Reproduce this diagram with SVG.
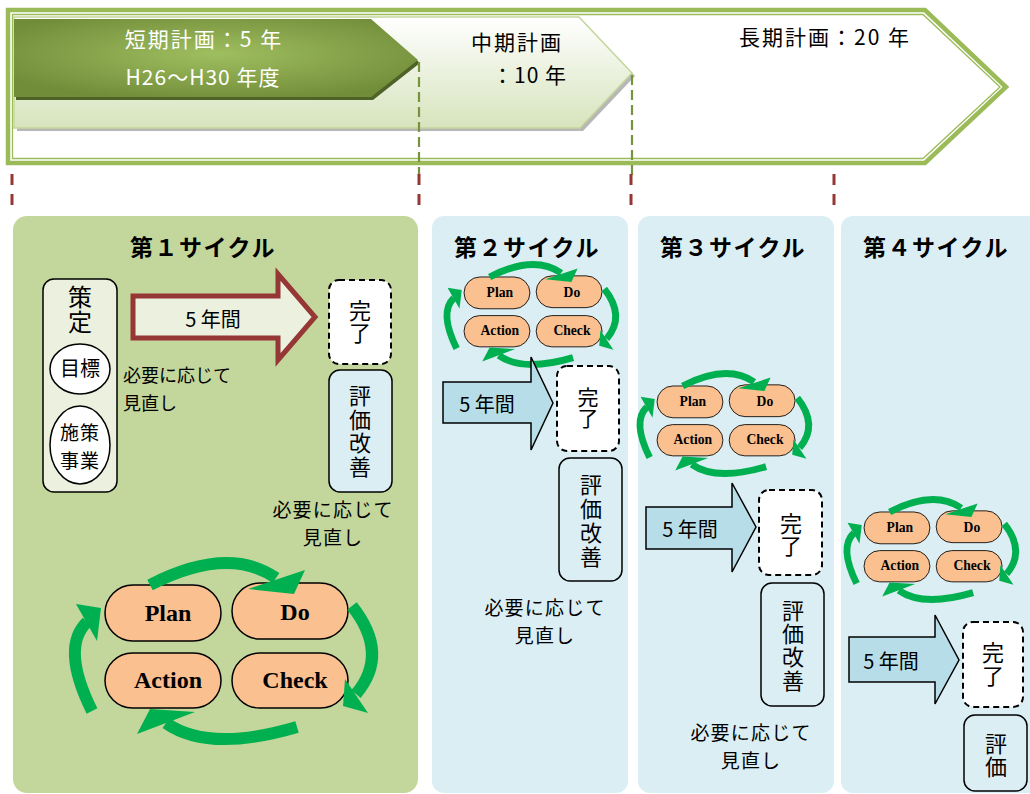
<svg xmlns="http://www.w3.org/2000/svg" xmlns:xlink="http://www.w3.org/1999/xlink" width="1030" height="794" viewBox="0 0 1030 794">
<defs>
<style>
text{font-family:"Noto Sans CJK JP","Noto Sans",sans-serif;fill:#000}
.c{text-anchor:middle}
.v{writing-mode:vertical-rl;text-anchor:middle}
.ttl{font-size:23px;font-weight:bold;letter-spacing:1.5px}
.f18{font-size:18px}
.f19{font-size:19px}
.f20{font-size:20px}
.f21{font-size:21px}
.f22{font-size:22px}
.f24{font-size:24px}
.wh{fill:#fff}
.pill{fill:#fac090;stroke:#000;stroke-width:1.5}
.pt{font-family:"Liberation Serif",serif;font-weight:bold;font-size:24px;text-anchor:middle}
.arc{fill:none;stroke:#00b050;stroke-width:12}
.head{fill:#00b050}
.done{fill:#fff;stroke:#000;stroke-width:2;stroke-dasharray:6 4}
.eval{fill:#dbeef4;stroke:#000;stroke-width:1.5}
.barrow{fill:#b7dee8;stroke:#000;stroke-width:1.5;stroke-linejoin:miter}
.red{stroke:#953735;stroke-width:3;stroke-dasharray:11 9;fill:none}
.gd{stroke:#77933c;stroke-width:2.2;stroke-dasharray:10 5;fill:none}
.panelB{fill:#dbeef4}
</style>
<linearGradient id="midG" x1="0" y1="0" x2="0" y2="1">
<stop offset="0" stop-color="#ffffff"/>
<stop offset="0.5" stop-color="#ebf1de"/>
<stop offset="1" stop-color="#d7e4bd"/>
</linearGradient>
<radialGradient id="shortG" cx="0.5" cy="0.45" r="0.6">
<stop offset="0" stop-color="#9fbe5f"/>
<stop offset="1" stop-color="#728d3a"/>
</radialGradient>
<g id="pdcaArrows">
<path class="arc" d="M150,585 Q228,545 276,578"/>
<polygon class="head" points="248,589 294,594 305,570"/>
<path class="arc" d="M352,606 Q390,654 356,694"/>
<polygon class="head" points="345,679 343,706 368,713"/>
<path class="arc" d="M297,727 Q208.5,753 166,723"/>
<polygon class="head" points="195,712 150,709 137,734"/>
<path class="arc" d="M92,711 Q60.5,647.5 87,622"/>
<polygon class="head" points="97,641 101,608 76,604"/>
</g>
</defs>

<rect width="1030" height="794" fill="#fff"/>

<!-- Plans banner -->
<g id="long-plan">
<polygon points="8,10 925,10 1006,87 925,163 8,163" fill="#fff" stroke="#9bbb59" stroke-width="4.5"/>
<polygon points="12.5,14.5 923,14.5 1000,87 923,158.5 12.5,158.5" fill="none" stroke="#9bbb59" stroke-width="1.3"/>
<text class="f21 c" x="825" y="45" style="letter-spacing:2px">長期計画：20 年</text>
</g>
<g id="mid-plan">
<polygon points="17,20 582,20 635,76 583,131 17,131" fill="#a5a5a5" opacity="0.8"/>
<polygon points="14,17 579,17 632,73 580,128 14,128" fill="url(#midG)" stroke="#c3d69b" stroke-width="1.5"/>
<text class="f21 c" x="517" y="50" style="letter-spacing:2px">中期計画</text>
<text class="f21" x="492" y="83" style="letter-spacing:1px">：10 年</text>
</g>
<g id="short-plan">
<polygon points="16,22 373,22 420,63 373,100 16,100" fill="#4f6228"/>
<polygon points="14,19 371,19 418,60 371,97 14,97" fill="url(#shortG)"/>
<text class="f21 c wh" x="204" y="47" style="letter-spacing:2px">短期計画：5 年</text>
<text class="f21 c wh" x="203" y="85" style="letter-spacing:1px">H26～H30 年度</text>
</g>

<!-- Panels -->
<g id="panel-1"><rect x="13" y="216" width="405" height="577" rx="14" fill="#c3d69b"/></g>
<g id="panel-2"><rect x="432" y="216" width="196" height="577" rx="12" class="panelB"/></g>
<g id="panel-3"><rect x="638" y="216" width="196" height="577" rx="12" class="panelB"/></g>
<g id="panel-4"><rect x="841" y="216" width="220" height="577" rx="12" class="panelB"/></g>

<!-- Connectors -->
<g id="connectors">
<line class="gd" x1="419" y1="62" x2="419" y2="176"/>
<line class="gd" x1="632" y1="75" x2="632" y2="178"/>
<line class="red" x1="12" y1="174" x2="12" y2="210"/>
<line class="red" x1="419" y1="174" x2="419" y2="210"/>
<line class="red" x1="631" y1="174" x2="631" y2="210"/>
<line class="red" x1="834" y1="174" x2="834" y2="210"/>
</g>

<!-- Cycle 1 -->
<g id="cycle1">
<text class="ttl c" x="203" y="256">第１サイクル</text>
<g id="c1-plan">
<rect x="43" y="279" width="74" height="213" rx="11" fill="#ebf1de" stroke="#000" stroke-width="1.5"/>
<text class="f24 v" x="80" y="310" style="letter-spacing:1px">策定</text>
<ellipse cx="80" cy="369" rx="30" ry="25" fill="#fff" stroke="#000" stroke-width="1.5"/>
<text class="f20 c" x="80" y="376">目標</text>
<ellipse cx="80" cy="445" rx="30" ry="39" fill="#fff" stroke="#000" stroke-width="1.5"/>
<text class="f19 c" x="80" y="440" style="letter-spacing:1px">施策</text>
<text class="f19 c" x="80" y="468" style="letter-spacing:1px">事業</text>
</g>
<g id="c1-arrow">
<polygon points="133,296 278,296 278,274 315,317 278,360 278,338 133,338" fill="#ebf1de" stroke="#953735" stroke-width="5"/>
<text class="f20 c" x="213" y="327">5 年間</text>
</g>
<text class="f18" x="123" y="382">必要に応じて</text>
<text class="f18" x="123" y="410">見直し</text>
<g id="c1-done">
<rect x="329" y="280" width="62" height="84" rx="10" class="done"/>
<text class="f22 v" x="360" y="322">完了</text>
</g>
<g id="c1-eval">
<rect x="329" y="370" width="63" height="122" rx="11" class="eval"/>
<text class="f22 v" x="360" y="432" style="letter-spacing:1.6px">評価改善</text>
</g>
<text class="f19 c" x="333" y="517" style="letter-spacing:1.2px">必要に応じて</text>
<text class="f19 c" x="333" y="545" style="letter-spacing:1.2px">見直し</text>
<g id="c1-pdca">
<rect class="pill" x="105" y="585" width="116" height="56" rx="28"/>
<rect class="pill" x="232" y="583" width="116" height="56" rx="28"/>
<rect class="pill" x="105" y="653" width="116" height="55" rx="27.5"/>
<rect class="pill" x="232" y="653" width="116" height="55" rx="27.5"/>
<text class="pt" x="168" y="621">Plan</text>
<text class="pt" x="295" y="620">Do</text>
<text class="pt" x="168" y="688">Action</text>
<text class="pt" x="295" y="688">Check</text>
<use xlink:href="#pdcaArrows" href="#pdcaArrows"/>
</g>
</g>

<!-- Cycle 2 -->
<g id="cycle2">
<text class="ttl c" x="527" y="256">第２サイクル</text>
<g id="c2-pdca" transform="translate(404.4,-55.3) scale(0.568)">
<rect class="pill" x="105" y="585" width="116" height="56" rx="28"/>
<rect class="pill" x="232" y="583" width="116" height="56" rx="28"/>
<rect class="pill" x="105" y="653" width="116" height="55" rx="27.5"/>
<rect class="pill" x="232" y="653" width="116" height="55" rx="27.5"/>
<text class="pt" x="168" y="621">Plan</text>
<text class="pt" x="295" y="620">Do</text>
<text class="pt" x="168" y="688">Action</text>
<text class="pt" x="295" y="688">Check</text>
<use xlink:href="#pdcaArrows" href="#pdcaArrows"/>
</g>
<g id="c2-arrow">
<polygon class="barrow" points="443,382 531,382 531,357 553,403 531,450 531,423 443,423"/>
<text class="f20 c" x="487" y="412">5 年間</text>
</g>
<g id="c2-done">
<rect x="557" y="366" width="62" height="85" rx="10" class="done"/>
<text class="f21 v" x="588" y="408">完了</text>
</g>
<g id="c2-eval">
<rect x="559" y="458" width="63" height="123" rx="11" class="eval"/>
<text class="f22 v" x="591" y="522" style="letter-spacing:2px">評価改善</text>
</g>
<text class="f19 c" x="545" y="615" style="letter-spacing:1.2px">必要に応じて</text>
<text class="f19 c" x="545" y="643" style="letter-spacing:1.2px">見直し</text>
</g>

<!-- Cycle 3 -->
<g id="cycle3">
<text class="ttl c" x="733" y="256">第３サイクル</text>
<g id="c3-pdca" transform="translate(597.4,53.7) scale(0.568)">
<rect class="pill" x="105" y="585" width="116" height="56" rx="28"/>
<rect class="pill" x="232" y="583" width="116" height="56" rx="28"/>
<rect class="pill" x="105" y="653" width="116" height="55" rx="27.5"/>
<rect class="pill" x="232" y="653" width="116" height="55" rx="27.5"/>
<text class="pt" x="168" y="621">Plan</text>
<text class="pt" x="295" y="620">Do</text>
<text class="pt" x="168" y="688">Action</text>
<text class="pt" x="295" y="688">Check</text>
<use xlink:href="#pdcaArrows" href="#pdcaArrows"/>
</g>
<g id="c3-arrow">
<polygon class="barrow" points="646,507 732,507 732,483 756,527 732,572 732,549 646,549"/>
<text class="f20 c" x="690" y="537">5 年間</text>
</g>
<g id="c3-done">
<rect x="759" y="490" width="63" height="85" rx="10" class="done"/>
<text class="f22 v" x="791" y="535">完了</text>
</g>
<g id="c3-eval">
<rect x="761" y="583" width="63" height="123" rx="11" class="eval"/>
<text class="f22 v" x="793" y="646" style="letter-spacing:1.4px">評価改善</text>
</g>
<text class="f19 c" x="751" y="740" style="letter-spacing:1.2px">必要に応じて</text>
<text class="f19 c" x="751" y="768" style="letter-spacing:1.2px">見直し</text>
</g>

<!-- Cycle 4 -->
<g id="cycle4">
<text class="ttl c" x="936" y="256">第４サイクル</text>
<g id="c4-pdca" transform="translate(804.4,179.7) scale(0.568)">
<rect class="pill" x="105" y="585" width="116" height="56" rx="28"/>
<rect class="pill" x="232" y="583" width="116" height="56" rx="28"/>
<rect class="pill" x="105" y="653" width="116" height="55" rx="27.5"/>
<rect class="pill" x="232" y="653" width="116" height="55" rx="27.5"/>
<text class="pt" x="168" y="621">Plan</text>
<text class="pt" x="295" y="620">Do</text>
<text class="pt" x="168" y="688">Action</text>
<text class="pt" x="295" y="688">Check</text>
<use xlink:href="#pdcaArrows" href="#pdcaArrows"/>
</g>
<g id="c4-arrow">
<polygon class="barrow" points="849,637 935,637 935,615 959,660 935,704 935,682 849,682"/>
<text class="f20 c" x="891" y="669">5 年間</text>
</g>
<g id="c4-done">
<rect x="963" y="622" width="60" height="85" rx="10" class="done"/>
<text class="f22 v" x="993" y="665" style="letter-spacing:1px">完了</text>
</g>
<g id="c4-eval">
<rect x="964" y="715" width="63" height="76" rx="11" class="eval"/>
<text class="f22 v" x="996" y="756" style="letter-spacing:1px">評価</text>
</g>
</g>
</svg>
